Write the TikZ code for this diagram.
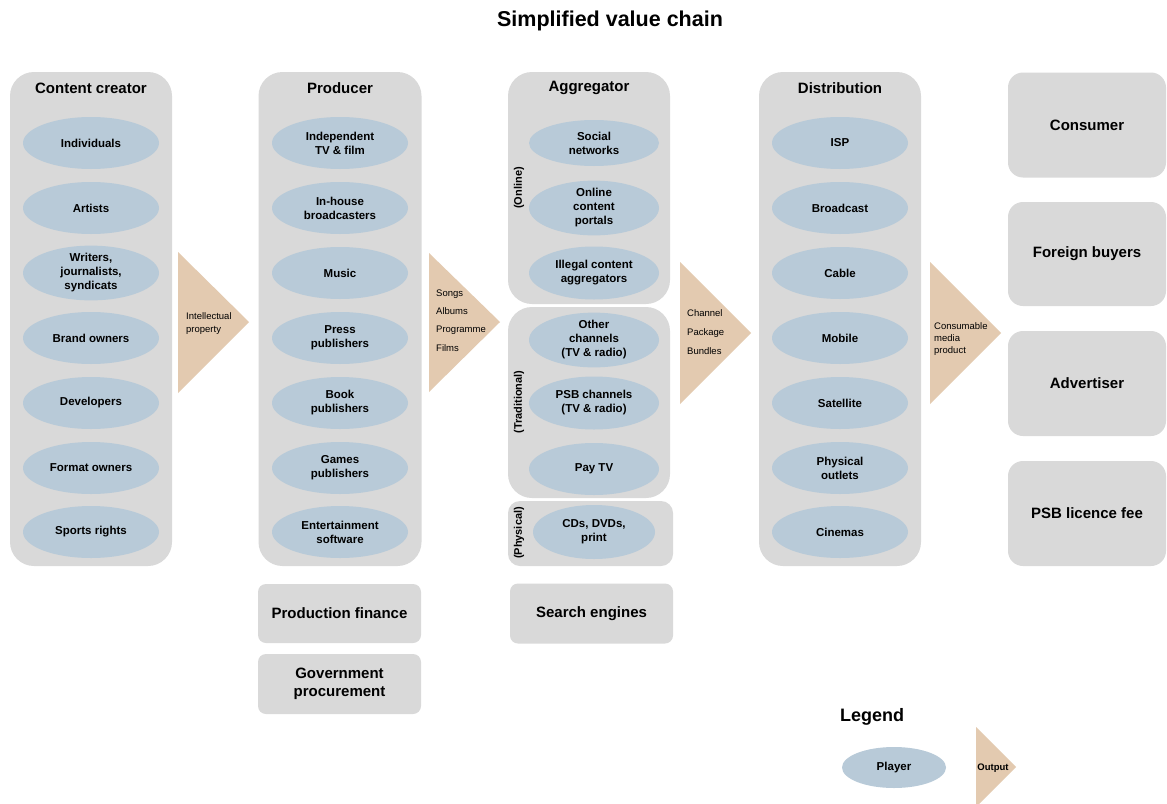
\documentclass[tikz,border=0pt]{standalone}
\usepackage{fontspec}
\setmainfont{Liberation Sans}
\usetikzlibrary{shapes.geometric}
\definecolor{panelgray}{HTML}{D9D9D9}
\definecolor{playerblue}{HTML}{B8CAD8}
\definecolor{outputtan}{HTML}{E3CAB0}
\tikzset{
  panel/.style={rectangle, fill=panelgray, rounded corners=24pt, inner sep=0pt},
  endbox/.style={rectangle, fill=panelgray, rounded corners=15pt, inner sep=0pt,
    minimum width=158pt, minimum height=105pt, align=center,
    font=\fontsize{15}{18}\selectfont\bfseries},
  smallbox/.style={rectangle, fill=panelgray, rounded corners=8pt, inner sep=0pt,
    minimum width=163pt, minimum height=60pt, align=center,
    font=\fontsize{15}{18}\selectfont\bfseries},
  head/.style={font=\fontsize{15}{18}\selectfont\bfseries},
  player/.style={ellipse, fill=playerblue, inner sep=0pt, minimum width=136pt,
    minimum height=52pt, align=center, font=\fontsize{11.5}{14}\selectfont\bfseries},
  group/.style={rotate=90, font=\fontsize{11}{13}\selectfont\bfseries},
  flow/.style={fill=outputtan},
  flowtext/.style={anchor=west, inner sep=0pt, align=left, font=\fontsize{9.5}{13}\selectfont},
}
\begin{document}
\begin{tikzpicture}[x=1pt,y=-1pt]
\useasboundingbox (0,0) rectangle (1167,803);
\fill[white] (0,0) rectangle (1167,803);

\node[font=\fontsize{21.5}{25}\selectfont\bfseries] (title) at (610,21) {Simplified value chain};

% ---- column panels ----
\node[panel, minimum width=162pt, minimum height=494pt] (creator) at (91,319) {};
\node[head] (creatorhead) at (91,88) {Content creator};
\node[panel, minimum width=163pt, minimum height=494pt] (producer) at (340,319) {};
\node[head] (producerhead) at (340,88) {Producer};
\node[panel, minimum width=162pt, minimum height=232pt] (online) at (589,188) {};
\node[head] (aggregatorhead) at (589,88) {Aggregator};
\node[panel, minimum width=162pt, minimum height=191pt] (traditional) at (589,402.5) {};
\node[panel, rounded corners=12pt, minimum width=165pt, minimum height=65pt] (physical) at (590.5,533.5) {};
\node[panel, minimum width=162pt, minimum height=494pt] (distribution) at (840,319) {};
\node[head] (distributionhead) at (840,88) {Distribution};

% ---- aggregator group labels ----
\node[group] (onlinelbl) at (519,188) {(Online)};
\node[group] (traditionallbl) at (519,402) {(Traditional)};
\node[group] (physicallbl) at (519,533) {(Physical)};

% ---- content creators ----
\node[player] (individuals) at (91,143) {Individuals};
\node[player] (artists) at (91,208) {Artists};
\node[player] (writers) at (91,273) {Writers,\\journalists,\\syndicats};
\node[player] (brand) at (91,338) {Brand owners};
\node[player] (developers) at (91,403) {Developers};
\node[player] (format) at (91,468) {Format owners};
\node[player] (sports) at (91,532) {Sports rights};

% ---- producers ----
\node[player] (independent) at (340,143) {Independent\\TV \& film};
\node[player] (inhouse) at (340,208) {In-house\\broadcasters};
\node[player] (music) at (340,273) {Music};
\node[player] (press) at (340,338) {Press\\publishers};
\node[player] (book) at (340,403) {Book\\publishers};
\node[player] (games) at (340,468) {Games\\publishers};
\node[player] (entertainment) at (340,532) {Entertainment\\software};

% ---- aggregators ----
\node[player, minimum width=130pt, minimum height=46pt] (social) at (594,143) {Social\\networks};
\node[player, minimum width=130pt, minimum height=53pt] (portals) at (594,208) {Online\\content\\portals};
\node[player, minimum width=130pt, minimum height=53pt] (illegal) at (594,273) {Illegal content\\aggregators};
\node[player, minimum width=130pt, minimum height=50pt] (other) at (594,340) {Other\\channels\\(TV \& radio)};
\node[player, minimum width=130pt, minimum height=53pt] (psb) at (594,403) {PSB channels\\(TV \& radio)};
\node[player, minimum width=130pt, minimum height=52pt] (paytv) at (594,469) {Pay TV};
\node[player, minimum width=122pt, minimum height=54pt] (cds) at (594,532) {CDs, DVDs,\\print};

% ---- distribution ----
\node[player] (isp) at (840,143) {ISP};
\node[player] (broadcast) at (840,208) {Broadcast};
\node[player] (cable) at (840,273) {Cable};
\node[player] (mobile) at (840,338) {Mobile};
\node[player] (satellite) at (840,403) {Satellite};
\node[player] (outlets) at (840,468) {Physical\\outlets};
\node[player] (cinemas) at (840,532) {Cinemas};

% ---- end points of the chain ----
\node[endbox] (consumer) at (1087,125) {Consumer};
\node[endbox, minimum height=104pt] (foreign) at (1087,254) {Foreign buyers};
\node[endbox] (advertiser) at (1087,383.5) {Advertiser};
\node[endbox] (licence) at (1087,513.5) {PSB licence fee};

% ---- supporting boxes ----
\node[smallbox, minimum height=59pt] (finance) at (339.5,613.5) {Production finance};
\node[smallbox] (procurement) at (339.5,684) {Government\\procurement};
\node[smallbox] (search) at (591.5,613.5) {Search engines};

% ---- outputs passed along the chain ----
\fill[flow] (178,252) -- (249,322) -- (178,393) -- cycle;
\node[flowtext] (ip) at (186,323.5) {Intellectual\\property};
\fill[flow] (429,253) -- (500,322) -- (429,392) -- cycle;
\node[flowtext, font=\fontsize{9.5}{18.3}\selectfont] (media) at (436,320.5) {Songs\\Albums\\Programme\\Films};
\fill[flow] (680,262) -- (751,333) -- (680,404) -- cycle;
\node[flowtext, font=\fontsize{9.5}{19}\selectfont] (channel) at (687,332.5) {Channel\\Package\\Bundles};
\fill[flow] (930,262) -- (1001,333) -- (930,404) -- cycle;
\node[flowtext, font=\fontsize{9.5}{12.3}\selectfont] (consumable) at (934,339) {Consumable\\media\\product};

% ---- legend ----
\node[font=\fontsize{18}{21}\selectfont\bfseries] (legend) at (872,717) {Legend};
\node[player, minimum width=104pt, minimum height=41pt] (legendplayer) at (894,767.5) {Player};
\fill[flow] (976,727) -- (1016,767) -- (976,807) -- cycle;
\node[font=\fontsize{9.5}{12}\selectfont\bfseries] (legendoutput) at (993,768) {Output};
\end{tikzpicture}
\end{document}
